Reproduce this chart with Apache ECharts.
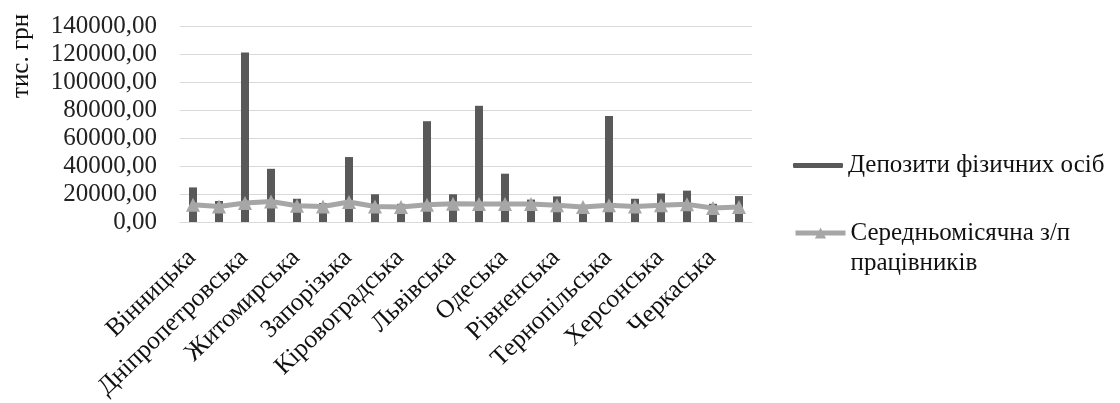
<!DOCTYPE html>
<html>
<head>
<meta charset="utf-8">
<script src="https://cdn.jsdelivr.net/npm/echarts@6/dist/echarts.min.js"></script>
<style>
html,body{margin:0;padding:0;background:#fff;}
#chart{width:1120px;height:403px;}
</style>
</head>
<body>
<div id="chart"></div>
<script>
const categories = ['Вінницька','Волинська','Дніпропетровська','Донецька','Житомирська','Закарпатська','Запорізька','Івано-Франківська','Кіровоградська','Київська','Львівська','Миколаївська','Одеська','Полтавська','Рівненська','Сумська','Тернопільська','Харківська','Херсонська','Хмельницька','Черкаська','Чернігівська'];
const deposits = [24700, 15000, 121000, 38000, 16600, 13500, 46400, 19800, 13000, 72000, 19800, 83000, 34500, 16000, 18300, 12000, 75700, 16600, 20400, 22400, 13000, 18500];
const salary = [12300, 11100, 13500, 14700, 11600, 11100, 14300, 11100, 10700, 12300, 13100, 12800, 12800, 12800, 11900, 10700, 11900, 11100, 11900, 12600, 10000, 10700];
const seriesNames = ['Депозити фізичних осіб', 'Середньомісячна з/п працівників'];
const yAxisName = 'тис. грн';

const FONT = '"Liberation Serif", "DejaVu Serif", serif';
const chart = echarts.init(document.getElementById('chart'));
chart.setOption({
  animation: false,
  backgroundColor: '#fff',
  grid: {left: 180, right: 368, top: 26, bottom: 181, containLabel: false, outerBoundsMode: 'none'},
  graphic: [{
    type: 'text', x: 21, y: 56, rotation: Math.PI / 2,
    style: {text: yAxisName, font: '25px ' + FONT, fill: '#111', textAlign: 'center', textVerticalAlign: 'middle'}
  }],
  legend: [{
    data: [seriesNames[0]], left: 793, top: 153, orient: 'vertical', padding: 0,
    itemWidth: 50, itemHeight: 5,
    textStyle: {fontFamily: FONT, fontSize: 25, color: '#111'}
  }, {
    data: [seriesNames[1]], left: 793, top: 188, orient: 'vertical', padding: 0,
    itemWidth: 50, itemHeight: 14,
    lineStyle: {width: 5, color: '#a6a6a6'},
    formatter: function () { return '\nСередньомісячна з/п\nпрацівників'; },
    textStyle: {fontFamily: FONT, fontSize: 25, color: '#111', lineHeight: 30}
  }],
  xAxis: {
    type: 'category', data: categories,
    axisLine: {lineStyle: {color: '#d9d9d9', width: 1}},
    axisTick: {show: false},
    axisLabel: {interval: 1, rotate: 44, margin: 13, fontFamily: FONT, fontSize: 25.5, color: '#111',
      verticalAlign: 'top', padding: [0, 14, 0, 0]}
  },
  yAxis: {
    type: 'value', min: 0, max: 140000, interval: 20000,
    axisLine: {show: false}, axisTick: {show: false},
    splitLine: {lineStyle: {color: '#d9d9d9', width: 1}},
    axisLabel: {margin: 23, fontFamily: FONT, fontSize: 25, color: '#222',
      formatter: function (v) { return v.toFixed(2).replace('.', ','); }}
  },
  series: [{
    name: seriesNames[0], type: 'bar', data: deposits, barWidth: 8,
    itemStyle: {color: '#595959'}
  }, {
    name: seriesNames[1], type: 'line', data: salary,
    symbol: 'triangle', symbolSize: 14,
    lineStyle: {color: '#a6a6a6', width: 5},
    itemStyle: {color: '#a6a6a6'}
  }]
});
</script>
</body>
</html>
